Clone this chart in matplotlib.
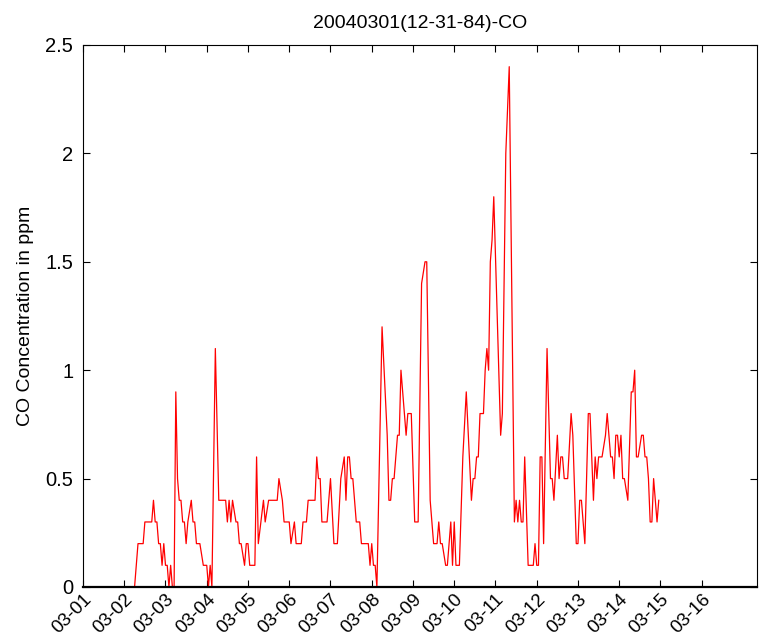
import numpy as np
import matplotlib
matplotlib.use("Agg")
import matplotlib.pyplot as plt

# hourly CO readings (hours counted from 03-01 00:00), only the vertices of the trace
hours = [24, 30, 32, 35, 36, 40, 41, 42, 43, 44, 45, 46, 47, 48, 49, 50, 51, 52, 53, 54,
         55, 56, 57, 58, 59, 60, 61, 63, 64, 65, 66, 68, 70, 72, 73, 74, 75, 77, 79, 83,
         84, 85, 86, 87, 89, 90, 91, 92, 94, 95, 96, 97, 100, 101, 102, 105, 106, 108, 113, 114,
         116, 117, 120, 121, 123, 124, 127, 128, 130, 131, 135, 136, 137, 138, 139, 142, 144, 146, 148, 150,
         152, 153, 154, 155, 156, 157, 159, 161, 162, 166, 167, 168, 169, 170, 171, 174, 177, 178, 179, 180,
         181, 183, 184, 185, 188, 189, 191, 193, 195, 197, 199, 200, 202, 204, 206, 207, 208, 209, 211, 212,
         214, 215, 216, 217, 219, 221, 223, 226, 227, 228, 229, 230, 231, 233, 234, 235, 236, 237, 238, 239,
         243, 244, 246, 248, 251, 252, 253, 254, 255, 256, 257, 259, 262, 263, 264, 265, 266, 267, 268, 270,
         272, 273, 274, 276, 277, 278, 279, 280, 282, 284, 285, 287, 288, 289, 290, 292, 294, 295, 297, 298,
         299, 300, 302, 304, 305, 307, 308, 309, 310, 311, 312, 313, 314, 315, 317, 319, 320, 321, 322, 323,
         325, 326, 327, 328, 329, 330, 331, 332, 334, 335]
co_ppm = [0, 0, 0.2, 0.2, 0.3, 0.3, 0.4, 0.3, 0.3, 0.2, 0.2, 0.1, 0.2, 0.1, 0.1, 0, 0.1, 0, 0, 0.9,
          0.5, 0.4, 0.4, 0.3, 0.3, 0.2, 0.3, 0.4, 0.3, 0.3, 0.2, 0.2, 0.1, 0.1, 0, 0.1, 0, 1.1, 0.4, 0.4,
          0.3, 0.4, 0.3, 0.4, 0.3, 0.3, 0.2, 0.2, 0.1, 0.2, 0.2, 0.1, 0.1, 0.6, 0.2, 0.4, 0.3, 0.4, 0.4, 0.5,
          0.4, 0.3, 0.3, 0.2, 0.3, 0.2, 0.2, 0.3, 0.3, 0.4, 0.4, 0.6, 0.5, 0.5, 0.3, 0.3, 0.5, 0.2, 0.2, 0.5,
          0.6, 0.4, 0.6, 0.6, 0.5, 0.5, 0.3, 0.3, 0.2, 0.2, 0.1, 0.2, 0.1, 0.1, 0, 1.2, 0.7, 0.4, 0.4, 0.5,
          0.5, 0.7, 0.7, 1.0, 0.7, 0.8, 0.8, 0.3, 0.3, 1.4, 1.5, 1.5, 0.4, 0.2, 0.2, 0.3, 0.2, 0.2, 0.1, 0.1,
          0.3, 0.1, 0.3, 0.1, 0.1, 0.6, 0.9, 0.4, 0.5, 0.5, 0.6, 0.6, 0.8, 0.8, 1.0, 1.1, 1.0, 1.5, 1.6, 1.8,
          0.7, 0.8, 2.0, 2.4, 0.3, 0.4, 0.3, 0.4, 0.3, 0.3, 0.6, 0.1, 0.1, 0.2, 0.1, 0.1, 0.6, 0.6, 0.2, 1.1,
          0.5, 0.5, 0.4, 0.7, 0.5, 0.6, 0.6, 0.5, 0.5, 0.8, 0.7, 0.2, 0.2, 0.4, 0.4, 0.2, 0.8, 0.8, 0.4, 0.6,
          0.5, 0.6, 0.6, 0.7, 0.8, 0.6, 0.6, 0.5, 0.7, 0.7, 0.6, 0.7, 0.5, 0.5, 0.4, 0.9, 0.9, 1.0, 0.6, 0.6,
          0.7, 0.7, 0.6, 0.6, 0.5, 0.3, 0.3, 0.5, 0.3, 0.4]

day_ticks = list(range(16))
day_labels = ["03-%02d" % (d + 1) for d in day_ticks]
y_ticks = [0, 0.5, 1, 1.5, 2, 2.5]
y_labels = ["0", "0.5", "1", "1.5", "2", "2.5"]

plt.rcParams["font.family"] = ["Liberation Sans", "DejaVu Sans"]

fig = plt.figure(figsize=(7.59, 6.42), dpi=100)
ax = fig.add_axes([83/759, 1-587/642, (757-83)/759, (587-45)/642])

t = np.array(hours) / 24.0
ax.plot(t, co_ppm, color="red", lw=0.9)

ax.set_xlim(0, 16.34)
ax.set_ylim(0, 2.5)
ax.set_xticks(day_ticks)
ax.set_xticklabels(day_labels, rotation=45, ha="right", va="top",
                   rotation_mode="anchor", fontsize=13.5)
ax.set_yticks(y_ticks)
ax.set_yticklabels(y_labels, fontsize=14.5)
ax.tick_params(direction="in", length=5, width=0.8, top=True, right=True, pad=7)
ax.tick_params(axis="x", pad=3)
for s in ax.spines.values():
    s.set_linewidth(0.8)
ax.spines["bottom"].set_linewidth(1.6)

ax.set_ylabel("CO Concentration in ppm", fontsize=14, labelpad=8)
ax.set_title("20040301(12-31-84)-CO", fontsize=14, pad=12)

fig.savefig("out.png", dpi=100)
